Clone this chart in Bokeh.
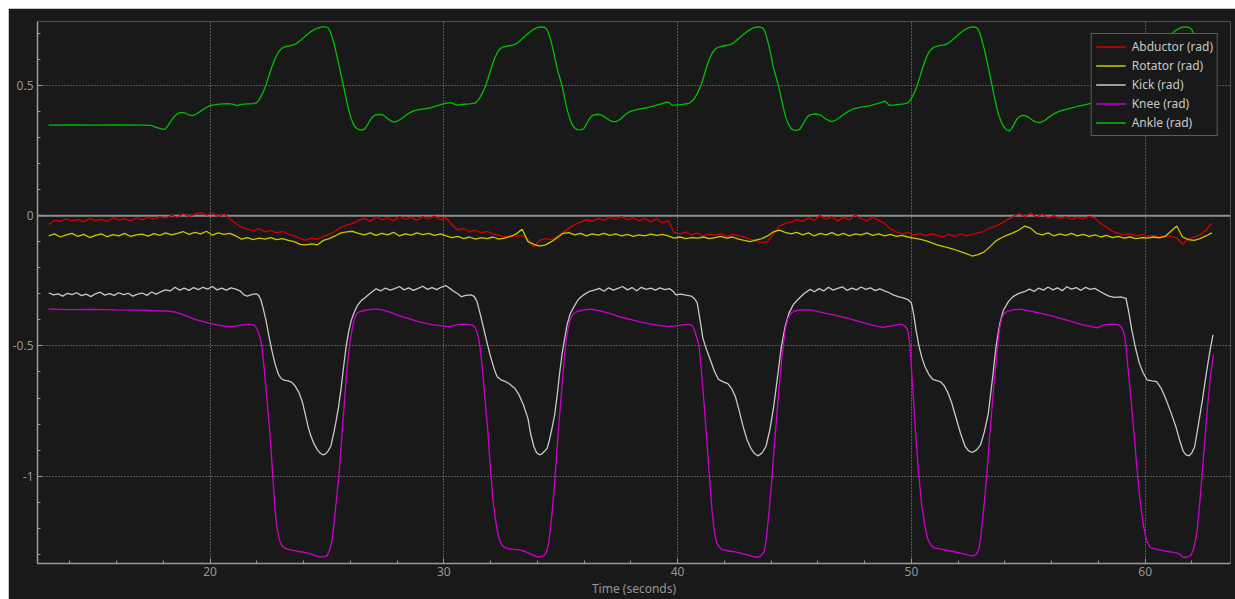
import numpy as np
from bokeh.plotting import figure
from bokeh.layouts import column, row
from bokeh.models import (Range1d, SingleIntervalTicker, Span, Legend, LegendItem,
                          CustomJSTickFormatter, Spacer)
from bokeh.embed import file_html
from bokeh.resources import INLINE

# ---- Abductor and Rotator: sampled every DT seconds from T0 ----
T0 = 13.1
DT = 0.25

abductor = [
    -0.034, -0.018, -0.022, -0.012, -0.020, -0.015, -0.024, -0.010,
    -0.019, -0.014, -0.022, -0.008, -0.017, -0.012, -0.020, -0.009,
    -0.016, -0.006, -0.013, -0.004, -0.010, 0.002, -0.008, 0.008,
    -0.003, 0.005, 0.012, 0.002, 0.010, -0.004, 0.006, -0.012,
    -0.030, -0.045, -0.052, -0.058, -0.050, -0.062, -0.057, -0.066,
    -0.060, -0.072, -0.078, -0.088, -0.094, -0.086, -0.090, -0.080,
    -0.072, -0.060, -0.045, -0.036, -0.030, -0.018, -0.010, -0.022,
    -0.005, -0.016, -0.008, -0.020, -0.003, -0.014, -0.006, -0.018,
    -0.004, -0.012, -0.002, -0.015, -0.008, -0.035, -0.055, -0.050,
    -0.062, -0.056, -0.066, -0.060, -0.070, -0.075, -0.082, -0.078,
    -0.080, -0.076, -0.090, -0.120, -0.095, -0.088, -0.092, -0.080,
    -0.065, -0.048, -0.035, -0.025, -0.015, -0.022, -0.010, -0.018,
    -0.006, -0.014, -0.004, -0.016, -0.008, -0.020, -0.010, -0.025,
    -0.012, -0.028, -0.018, -0.065, -0.070, -0.062, -0.074, -0.066,
    -0.078, -0.070, -0.075, -0.068, -0.080, -0.072, -0.078, -0.082,
    -0.090, -0.095, -0.105, -0.100, -0.070, -0.040, -0.030, -0.025,
    -0.015, -0.022, -0.008, -0.018, 0.000, -0.014, -0.004, -0.020,
    -0.006, -0.016, 0.002, -0.012, -0.020, -0.005, -0.018, -0.030,
    -0.050, -0.062, -0.070, -0.065, -0.075, -0.068, -0.078, -0.070,
    -0.076, -0.082, -0.072, -0.080, -0.070, -0.078, -0.072, -0.066,
    -0.060, -0.048, -0.040, -0.030, -0.015, -0.005, 0.008, -0.004,
    0.010, -0.006, 0.006, -0.010, 0.000, -0.012, -0.004, -0.014,
    -0.006, -0.012, -0.003, -0.010, -0.030, -0.045, -0.060, -0.068,
    -0.074, -0.070, -0.078, -0.072, -0.080, -0.076, -0.082, -0.078,
    -0.080, -0.085, -0.110, -0.090, -0.082, -0.075, -0.055, -0.030,
]

rotator = [
    -0.078, -0.070, -0.082, -0.074, -0.068, -0.080, -0.072, -0.084,
    -0.076, -0.070, -0.081, -0.073, -0.078, -0.068, -0.080, -0.074,
    -0.071, -0.079, -0.069, -0.076, -0.066, -0.074, -0.068, -0.061,
    -0.072, -0.064, -0.070, -0.060, -0.075, -0.066, -0.072, -0.068,
    -0.078, -0.090, -0.084, -0.092, -0.086, -0.090, -0.084, -0.092,
    -0.088, -0.095, -0.100, -0.110, -0.112, -0.108, -0.112, -0.095,
    -0.088, -0.078, -0.066, -0.062, -0.060, -0.068, -0.074, -0.066,
    -0.076, -0.068, -0.074, -0.064, -0.078, -0.070, -0.075, -0.066,
    -0.073, -0.068, -0.076, -0.070, -0.078, -0.084, -0.080, -0.088,
    -0.082, -0.090, -0.084, -0.088, -0.082, -0.090, -0.086, -0.080,
    -0.070, -0.052, -0.100, -0.110, -0.117, -0.112, -0.100, -0.085,
    -0.068, -0.065, -0.074, -0.068, -0.078, -0.070, -0.075, -0.068,
    -0.076, -0.070, -0.078, -0.072, -0.080, -0.074, -0.078, -0.071,
    -0.076, -0.072, -0.078, -0.086, -0.082, -0.088, -0.084, -0.086,
    -0.082, -0.088, -0.084, -0.080, -0.086, -0.082, -0.090, -0.095,
    -0.100, -0.094, -0.088, -0.078, -0.062, -0.056, -0.064, -0.070,
    -0.064, -0.074, -0.066, -0.078, -0.068, -0.074, -0.065, -0.076,
    -0.068, -0.078, -0.070, -0.074, -0.066, -0.076, -0.070, -0.078,
    -0.072, -0.080, -0.076, -0.082, -0.086, -0.090, -0.096, -0.104,
    -0.112, -0.118, -0.124, -0.130, -0.138, -0.146, -0.155, -0.150,
    -0.140, -0.120, -0.098, -0.085, -0.075, -0.066, -0.055, -0.040,
    -0.048, -0.068, -0.074, -0.066, -0.078, -0.070, -0.076, -0.068,
    -0.078, -0.072, -0.080, -0.074, -0.082, -0.076, -0.084, -0.080,
    -0.086, -0.082, -0.088, -0.084, -0.086, -0.082, -0.085, -0.080,
    -0.060, -0.040, -0.082, -0.092, -0.095, -0.088, -0.078, -0.066,
]

# ---- Kick, Knee, Ankle: (time s, value rad) points ----
kick_pts = [
    (13.1, -0.296), (13.3, -0.304), (13.5, -0.300), (13.7, -0.309), (13.9, -0.298),
    (14.1, -0.303), (14.3, -0.296), (14.5, -0.307), (14.7, -0.301), (14.9, -0.311),
    (15.1, -0.300), (15.3, -0.294), (15.5, -0.305), (15.7, -0.299), (15.9, -0.306),
    (16.1, -0.296), (16.3, -0.303), (16.5, -0.298), (16.7, -0.309), (16.9, -0.301),
    (17.1, -0.297), (17.3, -0.306), (17.5, -0.293), (17.7, -0.301), (17.9, -0.292),
    (18.1, -0.285), (18.3, -0.289), (18.5, -0.275), (18.7, -0.286), (18.9, -0.278),
    (19.1, -0.287), (19.3, -0.276), (19.5, -0.284), (19.7, -0.275), (19.9, -0.282),
    (20.1, -0.272), (20.3, -0.285), (20.5, -0.278), (20.7, -0.286), (20.9, -0.277),
    (21.1, -0.282), (21.3, -0.290), (21.45, -0.304),
    (21.60, -0.309), (21.80, -0.302), (21.98, -0.300), (22.08, -0.306), (22.17, -0.322),
    (22.27, -0.355), (22.39, -0.400), (22.51, -0.458), (22.64, -0.515), (22.78, -0.568),
    (22.92, -0.608), (23.05, -0.626), (23.20, -0.632), (23.35, -0.634), (23.50, -0.640),
    (23.65, -0.655), (23.80, -0.678), (23.95, -0.715), (24.08, -0.765), (24.19, -0.809),
    (24.33, -0.850), (24.46, -0.878), (24.60, -0.900), (24.72, -0.912), (24.84, -0.918),
    (24.95, -0.914), (25.06, -0.902), (25.17, -0.884), (25.28, -0.840), (25.39, -0.790),
    (25.50, -0.733), (25.61, -0.660), (25.72, -0.575), (25.82, -0.503), (25.93, -0.445),
    (26.04, -0.402), (26.15, -0.375), (26.30, -0.345), (26.45, -0.328), (26.64, -0.314),
    (26.85, -0.298), (27.10, -0.281),
    (27.30, -0.289), (27.50, -0.278), (27.70, -0.286), (27.90, -0.280), (28.10, -0.272),
    (28.30, -0.285), (28.50, -0.277), (28.70, -0.287), (28.90, -0.279), (29.10, -0.271),
    (29.30, -0.283), (29.50, -0.276), (29.70, -0.284), (29.90, -0.274), (30.10, -0.269),
    (30.30, -0.282), (30.45, -0.292),
    (30.60, -0.300), (30.75, -0.311), (30.95, -0.306), (31.15, -0.304), (31.30, -0.310),
    (31.42, -0.330), (31.55, -0.375), (31.72, -0.439), (31.85, -0.488), (31.96, -0.528),
    (32.10, -0.572), (32.20, -0.600), (32.29, -0.619), (32.45, -0.630), (32.62, -0.636),
    (32.80, -0.645), (33.03, -0.662), (33.20, -0.685), (33.40, -0.725), (33.60, -0.779),
    (33.72, -0.840), (33.85, -0.886), (33.97, -0.910), (34.09, -0.918), (34.20, -0.914),
    (34.32, -0.903), (34.42, -0.893), (34.52, -0.860), (34.63, -0.815), (34.75, -0.760),
    (34.86, -0.680), (34.96, -0.600), (35.06, -0.530), (35.16, -0.477), (35.27, -0.420),
    (35.40, -0.378), (35.57, -0.349), (35.75, -0.322), (35.98, -0.304), (36.20, -0.292),
    (36.47, -0.285),
    (36.65, -0.279), (36.85, -0.290), (37.05, -0.277), (37.25, -0.286), (37.45, -0.279),
    (37.65, -0.272), (37.85, -0.285), (38.05, -0.276), (38.25, -0.288), (38.45, -0.275),
    (38.65, -0.283), (38.85, -0.278), (39.05, -0.286), (39.25, -0.277), (39.45, -0.284),
    (39.65, -0.280), (39.80, -0.290),
    (39.93, -0.304), (40.15, -0.301), (40.35, -0.305), (40.59, -0.309), (40.72, -0.318),
    (40.84, -0.335), (40.96, -0.400), (41.08, -0.470), (41.24, -0.515), (41.41, -0.556),
    (41.58, -0.598), (41.74, -0.628), (41.95, -0.638), (42.15, -0.645), (42.32, -0.665),
    (42.47, -0.694), (42.64, -0.750), (42.80, -0.809), (42.97, -0.860), (43.13, -0.893),
    (43.30, -0.914), (43.45, -0.922), (43.62, -0.910), (43.78, -0.886), (43.95, -0.820),
    (44.11, -0.733), (44.28, -0.615), (44.44, -0.503), (44.60, -0.425), (44.76, -0.375),
    (44.96, -0.340), (45.17, -0.320), (45.40, -0.300), (45.67, -0.283),
    (45.85, -0.292), (46.05, -0.280), (46.25, -0.289), (46.45, -0.275), (46.65, -0.286),
    (46.85, -0.279), (47.05, -0.273), (47.25, -0.287), (47.45, -0.278), (47.65, -0.285),
    (47.85, -0.274), (48.05, -0.283), (48.25, -0.277), (48.45, -0.288), (48.65, -0.281),
    (48.85, -0.289), (49.05, -0.296), (49.25, -0.305),
    (49.43, -0.311), (49.65, -0.316), (49.85, -0.322), (50.00, -0.335), (50.10, -0.380),
    (50.20, -0.440), (50.33, -0.503), (50.45, -0.545), (50.58, -0.579), (50.75, -0.610),
    (50.91, -0.628), (51.08, -0.633), (51.24, -0.637), (51.40, -0.652), (51.57, -0.681),
    (51.73, -0.720), (51.89, -0.770), (52.10, -0.835), (52.30, -0.886), (52.45, -0.903),
    (52.60, -0.909), (52.78, -0.900), (52.96, -0.880), (53.12, -0.830), (53.29, -0.760),
    (53.45, -0.640), (53.62, -0.503), (53.78, -0.415), (53.94, -0.362), (54.15, -0.330),
    (54.35, -0.311), (54.60, -0.298), (54.84, -0.292),
    (55.05, -0.282), (55.25, -0.291), (55.45, -0.278), (55.65, -0.286), (55.85, -0.274),
    (56.05, -0.285), (56.25, -0.277), (56.45, -0.288), (56.65, -0.273), (56.85, -0.282),
    (57.05, -0.276), (57.25, -0.287), (57.45, -0.275), (57.65, -0.283), (57.85, -0.279),
    (58.05, -0.290), (58.25, -0.300), (58.45, -0.309),
    (58.69, -0.314), (58.95, -0.312), (59.18, -0.318), (59.30, -0.370), (59.43, -0.439),
    (59.58, -0.505), (59.75, -0.566), (59.92, -0.605), (60.08, -0.630), (60.28, -0.634),
    (60.49, -0.637), (60.70, -0.665), (60.90, -0.707), (61.10, -0.755), (61.31, -0.809),
    (61.47, -0.860), (61.63, -0.905), (61.75, -0.918), (61.88, -0.922), (62.00, -0.910),
    (62.12, -0.886), (62.28, -0.800), (62.45, -0.707), (62.60, -0.615), (62.75, -0.530),
    (62.90, -0.458),
]

knee_pts = [
    (13.09, -0.359), (14.00, -0.361), (15.00, -0.360), (16.00, -0.362), (17.00, -0.363),
    (17.64, -0.365), (18.20, -0.366), (18.46, -0.369), (18.70, -0.375), (18.90, -0.382),
    (19.10, -0.389), (19.30, -0.396), (19.55, -0.403), (19.80, -0.409), (20.01, -0.414),
    (20.30, -0.419), (20.60, -0.424), (20.91, -0.426), (21.15, -0.423), (21.40, -0.419),
    (21.70, -0.417), (21.88, -0.420), (21.98, -0.430), (22.06, -0.447), (22.14, -0.468),
    (22.22, -0.503), (22.32, -0.590), (22.43, -0.700), (22.55, -0.822), (22.67, -0.980),
    (22.79, -1.141), (22.88, -1.205), (22.97, -1.245), (23.06, -1.264), (23.15, -1.273),
    (23.30, -1.280), (23.50, -1.284), (23.80, -1.289), (24.02, -1.292), (24.30, -1.298),
    (24.50, -1.305), (24.68, -1.310), (24.90, -1.309), (25.01, -1.305), (25.10, -1.285),
    (25.20, -1.256), (25.28, -1.200), (25.36, -1.130), (25.43, -1.070), (25.50, -1.013),
    (25.58, -0.920), (25.66, -0.820), (25.74, -0.725), (25.82, -0.630), (25.90, -0.550),
    (25.98, -0.490), (26.07, -0.439), (26.15, -0.405), (26.23, -0.385), (26.31, -0.372),
    (26.50, -0.366), (26.80, -0.361), (27.13, -0.358), (27.40, -0.363), (27.70, -0.370),
    (28.11, -0.385), (28.50, -0.395), (28.80, -0.404), (29.09, -0.411), (29.50, -0.418),
    (29.90, -0.423), (30.24, -0.426), (30.50, -0.420), (30.73, -0.416), (31.00, -0.417),
    (31.23, -0.420), (31.33, -0.428), (31.42, -0.448), (31.48, -0.470), (31.55, -0.503),
    (31.65, -0.590), (31.76, -0.700), (31.88, -0.822), (32.00, -0.980), (32.11, -1.100),
    (32.21, -1.167), (32.30, -1.215), (32.40, -1.250), (32.50, -1.266), (32.62, -1.275),
    (32.90, -1.280), (33.20, -1.283), (33.45, -1.288), (33.70, -1.298), (33.90, -1.307),
    (34.01, -1.310), (34.15, -1.309), (34.30, -1.303), (34.40, -1.290), (34.48, -1.260),
    (34.55, -1.210), (34.62, -1.150), (34.68, -1.090), (34.75, -1.013), (34.83, -0.910),
    (34.91, -0.810), (35.00, -0.715), (35.08, -0.630), (35.16, -0.540), (35.24, -0.475),
    (35.32, -0.430), (35.40, -0.400), (35.50, -0.382), (35.62, -0.372), (35.73, -0.367),
    (36.00, -0.362), (36.30, -0.359), (36.70, -0.366), (37.00, -0.373), (37.28, -0.381),
    (37.60, -0.390), (37.97, -0.398), (38.40, -0.408), (38.80, -0.415), (39.20, -0.421),
    (39.61, -0.426), (39.90, -0.423), (40.20, -0.419), (40.50, -0.417), (40.65, -0.424),
    (40.72, -0.440), (40.80, -0.462), (40.86, -0.480), (40.92, -0.503), (41.02, -0.600),
    (41.13, -0.720), (41.25, -0.860), (41.36, -1.000), (41.47, -1.130), (41.58, -1.218),
    (41.67, -1.255), (41.78, -1.272), (41.91, -1.282), (42.20, -1.287), (42.56, -1.292),
    (42.90, -1.300), (43.20, -1.308), (43.45, -1.311), (43.60, -1.302), (43.71, -1.288),
    (43.78, -1.250), (43.85, -1.190), (43.93, -1.120), (44.03, -1.013), (44.13, -0.890),
    (44.23, -0.780), (44.33, -0.670), (44.44, -0.566), (44.53, -0.490), (44.62, -0.430),
    (44.72, -0.395), (44.85, -0.374), (45.00, -0.366), (45.30, -0.362), (45.67, -0.362),
    (46.10, -0.370), (46.70, -0.382), (47.30, -0.394), (47.90, -0.410), (48.40, -0.422),
    (48.78, -0.429), (49.10, -0.424), (49.40, -0.418), (49.59, -0.417), (49.72, -0.424),
    (49.80, -0.432), (49.87, -0.450), (49.94, -0.500), (50.05, -0.650), (50.17, -0.822),
    (50.30, -0.980), (50.44, -1.110), (50.58, -1.192), (50.70, -1.240), (50.83, -1.265),
    (50.99, -1.275), (51.30, -1.281), (51.73, -1.288), (52.10, -1.295), (52.40, -1.302),
    (52.63, -1.307), (52.78, -1.298), (52.88, -1.282), (52.96, -1.240), (53.04, -1.170),
    (53.12, -1.100), (53.21, -1.013), (53.31, -0.890), (53.41, -0.780), (53.51, -0.670),
    (53.62, -0.566), (53.70, -0.490), (53.78, -0.430), (53.86, -0.395), (53.94, -0.378),
    (54.10, -0.367), (54.40, -0.361), (54.68, -0.359), (55.20, -0.368), (55.99, -0.385),
    (56.60, -0.400), (57.30, -0.418), (57.95, -0.431), (58.10, -0.425), (58.28, -0.418),
    (58.60, -0.416), (58.85, -0.418), (58.98, -0.428), (59.05, -0.440), (59.10, -0.452),
    (59.18, -0.500), (59.28, -0.600), (59.40, -0.710), (59.51, -0.822), (59.64, -0.960),
    (59.78, -1.090), (59.91, -1.180), (60.02, -1.230), (60.12, -1.260), (60.24, -1.275),
    (60.55, -1.282), (60.90, -1.288), (61.20, -1.292), (61.40, -1.296), (61.50, -1.300),
    (61.58, -1.310), (61.70, -1.312), (61.85, -1.309), (61.96, -1.303), (62.05, -1.285),
    (62.13, -1.255), (62.21, -1.218), (62.30, -1.140), (62.42, -1.010), (62.53, -0.886),
    (62.66, -0.740), (62.79, -0.620), (62.92, -0.534),
]

ankle_pts = [
    (13.09, 0.347), (14.00, 0.348), (15.00, 0.347), (16.00, 0.348), (17.00, 0.347),
    (17.48, 0.346), (17.65, 0.341), (17.85, 0.335), (18.00, 0.331), (18.10, 0.333),
    (18.22, 0.348), (18.35, 0.366), (18.50, 0.383), (18.65, 0.393), (18.80, 0.396),
    (18.95, 0.393), (19.10, 0.386), (19.25, 0.384), (19.40, 0.389), (19.60, 0.401),
    (19.80, 0.413), (20.01, 0.422), (20.40, 0.428), (20.75, 0.430), (20.95, 0.428),
    (21.16, 0.422), (21.35, 0.427), (21.60, 0.429), (21.85, 0.430), (22.00, 0.434),
    (22.12, 0.447), (22.25, 0.470), (22.39, 0.500), (22.52, 0.537), (22.65, 0.572),
    (22.77, 0.600), (22.88, 0.620), (22.98, 0.634), (23.10, 0.644), (23.25, 0.649),
    (23.45, 0.652), (23.60, 0.656), (23.75, 0.664), (23.90, 0.675), (24.05, 0.687),
    (24.20, 0.698), (24.35, 0.708), (24.50, 0.716), (24.65, 0.721), (24.80, 0.724),
    (24.95, 0.724), (25.05, 0.720), (25.13, 0.708), (25.22, 0.686), (25.32, 0.655),
    (25.43, 0.612), (25.54, 0.567), (25.64, 0.525), (25.74, 0.484), (25.84, 0.442),
    (25.94, 0.403), (26.04, 0.372), (26.14, 0.350), (26.24, 0.337), (26.36, 0.330),
    (26.50, 0.328), (26.62, 0.333), (26.72, 0.346), (26.84, 0.365), (26.95, 0.379),
    (27.08, 0.386), (27.25, 0.389), (27.40, 0.386), (27.55, 0.376), (27.70, 0.365),
    (27.85, 0.360), (28.00, 0.362), (28.20, 0.373), (28.45, 0.390), (28.70, 0.402),
    (29.00, 0.408), (29.40, 0.413), (29.80, 0.424), (30.05, 0.431), (30.30, 0.434),
    (30.45, 0.428), (30.57, 0.424), (30.80, 0.427), (31.10, 0.429), (31.35, 0.432),
    (31.50, 0.446), (31.65, 0.470), (31.80, 0.500), (31.93, 0.537), (32.06, 0.575),
    (32.18, 0.605), (32.29, 0.626), (32.40, 0.640), (32.54, 0.648), (32.75, 0.651),
    (32.95, 0.654), (33.10, 0.660), (33.25, 0.670), (33.40, 0.683), (33.55, 0.695),
    (33.70, 0.706), (33.85, 0.716), (34.00, 0.722), (34.15, 0.724), (34.30, 0.723),
    (34.40, 0.716), (34.48, 0.700), (34.57, 0.675), (34.66, 0.642), (34.77, 0.598),
    (34.88, 0.552), (34.98, 0.524), (35.08, 0.490), (35.18, 0.445), (35.28, 0.405),
    (35.38, 0.375), (35.48, 0.352), (35.58, 0.338), (35.70, 0.330), (35.85, 0.329),
    (35.98, 0.333), (36.08, 0.348), (36.20, 0.368), (36.32, 0.382), (36.45, 0.388),
    (36.60, 0.389), (36.75, 0.386), (36.90, 0.377), (37.05, 0.368), (37.20, 0.362),
    (37.37, 0.361), (37.55, 0.370), (37.75, 0.387), (37.97, 0.400), (38.30, 0.408),
    (38.63, 0.413), (39.00, 0.421), (39.30, 0.429), (39.55, 0.436), (39.65, 0.433),
    (39.75, 0.424), (39.90, 0.424), (40.20, 0.427), (40.50, 0.431), (40.70, 0.447),
    (40.85, 0.470), (41.00, 0.500), (41.13, 0.537), (41.26, 0.575), (41.38, 0.605),
    (41.50, 0.627), (41.62, 0.640), (41.76, 0.647), (41.95, 0.651), (42.15, 0.654),
    (42.31, 0.658), (42.45, 0.667), (42.60, 0.679), (42.75, 0.690), (42.90, 0.701),
    (43.05, 0.711), (43.20, 0.719), (43.35, 0.723), (43.50, 0.724), (43.65, 0.720),
    (43.73, 0.708), (43.81, 0.685), (43.90, 0.655), (44.00, 0.612), (44.10, 0.567),
    (44.22, 0.530), (44.32, 0.497), (44.42, 0.455), (44.52, 0.415), (44.62, 0.380),
    (44.72, 0.355), (44.82, 0.338), (44.93, 0.329), (45.08, 0.327), (45.22, 0.331),
    (45.33, 0.346), (45.45, 0.366), (45.57, 0.381), (45.70, 0.388), (45.90, 0.390),
    (46.10, 0.387), (46.30, 0.374), (46.45, 0.365), (46.60, 0.361), (46.80, 0.368),
    (47.05, 0.385), (47.30, 0.400), (47.55, 0.411), (47.90, 0.417), (48.21, 0.421),
    (48.50, 0.429), (48.75, 0.436), (48.86, 0.439), (48.95, 0.433), (49.05, 0.423),
    (49.30, 0.425), (49.60, 0.428), (49.85, 0.432), (49.98, 0.447), (50.12, 0.470),
    (50.25, 0.500), (50.38, 0.537), (50.51, 0.575), (50.63, 0.605), (50.75, 0.627),
    (50.87, 0.640), (51.00, 0.648), (51.20, 0.652), (51.40, 0.655), (51.55, 0.660),
    (51.70, 0.670), (51.85, 0.682), (52.00, 0.694), (52.15, 0.705), (52.30, 0.715),
    (52.45, 0.721), (52.60, 0.724), (52.75, 0.723), (52.85, 0.716), (52.93, 0.700),
    (53.02, 0.672), (53.12, 0.638), (53.23, 0.594), (53.34, 0.548), (53.45, 0.500),
    (53.55, 0.455), (53.65, 0.415), (53.75, 0.382), (53.85, 0.358), (53.96, 0.340),
    (54.07, 0.329), (54.19, 0.325), (54.30, 0.335), (54.40, 0.352), (54.51, 0.370),
    (54.62, 0.380), (54.75, 0.385), (54.88, 0.384), (55.00, 0.378), (55.15, 0.368),
    (55.30, 0.360), (55.50, 0.357), (55.70, 0.365), (55.90, 0.379), (56.10, 0.391),
    (56.31, 0.400), (56.70, 0.410), (57.10, 0.419), (57.46, 0.426), (57.80, 0.434),
    (58.00, 0.440), (58.10, 0.436), (58.20, 0.428), (58.45, 0.428), (58.75, 0.431),
    (58.95, 0.436), (59.10, 0.452), (59.22, 0.474), (59.35, 0.500), (59.48, 0.537),
    (59.61, 0.575), (59.73, 0.605), (59.85, 0.627), (59.97, 0.640), (60.10, 0.648),
    (60.30, 0.652), (60.50, 0.655), (60.65, 0.660), (60.80, 0.670), (60.95, 0.682),
    (61.10, 0.695), (61.25, 0.707), (61.40, 0.716), (61.55, 0.722), (61.70, 0.724),
    (61.85, 0.723), (61.98, 0.716), (62.06, 0.700), (62.15, 0.672), (62.25, 0.638),
    (62.36, 0.594), (62.47, 0.548), (62.58, 0.500), (62.68, 0.455), (62.78, 0.415),
    (62.88, 0.382), (62.95, 0.365),
]

series_names = ["Abductor (rad)", "Rotator (rad)", "Kick (rad)", "Knee (rad)", "Ankle (rad)"]
series_colors = ["#d40000", "#c8c800", "#c8c8c8", "#cc00cc", "#00c000"]

BG = "#191919"
AX = "#9a9a9a"
FONT = "Noto Sans"

p = figure(width=1227, height=591, output_backend="svg", toolbar_location=None,
           x_range=Range1d(12.62, 63.65), y_range=Range1d(-1.335, 0.745),
           min_border_left=29, min_border_right=5, min_border_top=13, min_border_bottom=35,
           background_fill_color=BG, border_fill_color=BG, outline_line_color=None)

xt = SingleIntervalTicker(interval=10, num_minor_ticks=5)
yt = SingleIntervalTicker(interval=0.5, num_minor_ticks=5)
p.xaxis.ticker = xt
p.yaxis.ticker = yt
p.xgrid.ticker = xt
p.ygrid.ticker = yt
p.yaxis.formatter = CustomJSTickFormatter(code="return String(tick)")

for ax in (p.xaxis[0], p.yaxis[0]):
    ax.axis_line_color = AX
    ax.axis_line_width = 1.5
    ax.major_tick_line_color = AX
    ax.minor_tick_line_color = AX
    ax.major_tick_in = 5
    ax.major_tick_out = 0
    ax.minor_tick_in = 3
    ax.minor_tick_out = 0
    ax.major_label_text_color = "#969696"
    ax.major_label_text_font = FONT
    ax.major_label_text_font_size = "12px"
p.yaxis.major_label_standoff = 4
p.xaxis.major_label_standoff = 3

p.xaxis.axis_label = "Time (seconds)"
p.xaxis.axis_label_text_color = "#969696"
p.xaxis.axis_label_text_font = FONT
p.xaxis.axis_label_text_font_size = "12px"
p.xaxis.axis_label_text_font_style = "normal"
p.xaxis.axis_label_standoff = 1

p.grid.grid_line_color = "#b0b0b0"
p.grid.grid_line_alpha = 0.8
p.grid.grid_line_dash = "1 2"
p.grid.grid_line_width = 1

zero = Span(location=0, dimension="width", line_color="#8e8e8e", line_width=2, level="underlay")
p.add_layout(zero)

t_abd = T0 + DT * np.arange(len(abductor))
t_rot = T0 + DT * np.arange(len(rotator))
kick_t, kick = zip(*kick_pts)
knee_t, knee = zip(*knee_pts)
ankle_t, ankle = zip(*ankle_pts)

xs = [t_abd, t_rot, list(kick_t), list(knee_t), list(ankle_t)]
ys = [abductor, rotator, list(kick), list(knee), list(ankle)]

items = []
for x, y, name, col in zip(xs, ys, series_names, series_colors):
    r = p.line(x, y, line_color=col, line_width=1.3)
    items.append(LegendItem(label=name, renderers=[r]))

legend = Legend(items=items, location="top_right", margin=12, padding=4,
                spacing=2, glyph_width=30, glyph_height=15, label_height=15,
                label_width=80, label_standoff=6, label_text_color="#c8c8c8",
                label_text_font=FONT, label_text_font_size="12px",
                border_line_color="#a0a0a0", border_line_width=1,
                background_fill_color=BG, background_fill_alpha=1.0)
p.add_layout(legend)

# 8px white page margin, as in the reference screenshot
page = column(Spacer(width=1235, height=8), row(Spacer(width=8, height=591), p))

open("out.html", "w").write(file_html(page, INLINE))
